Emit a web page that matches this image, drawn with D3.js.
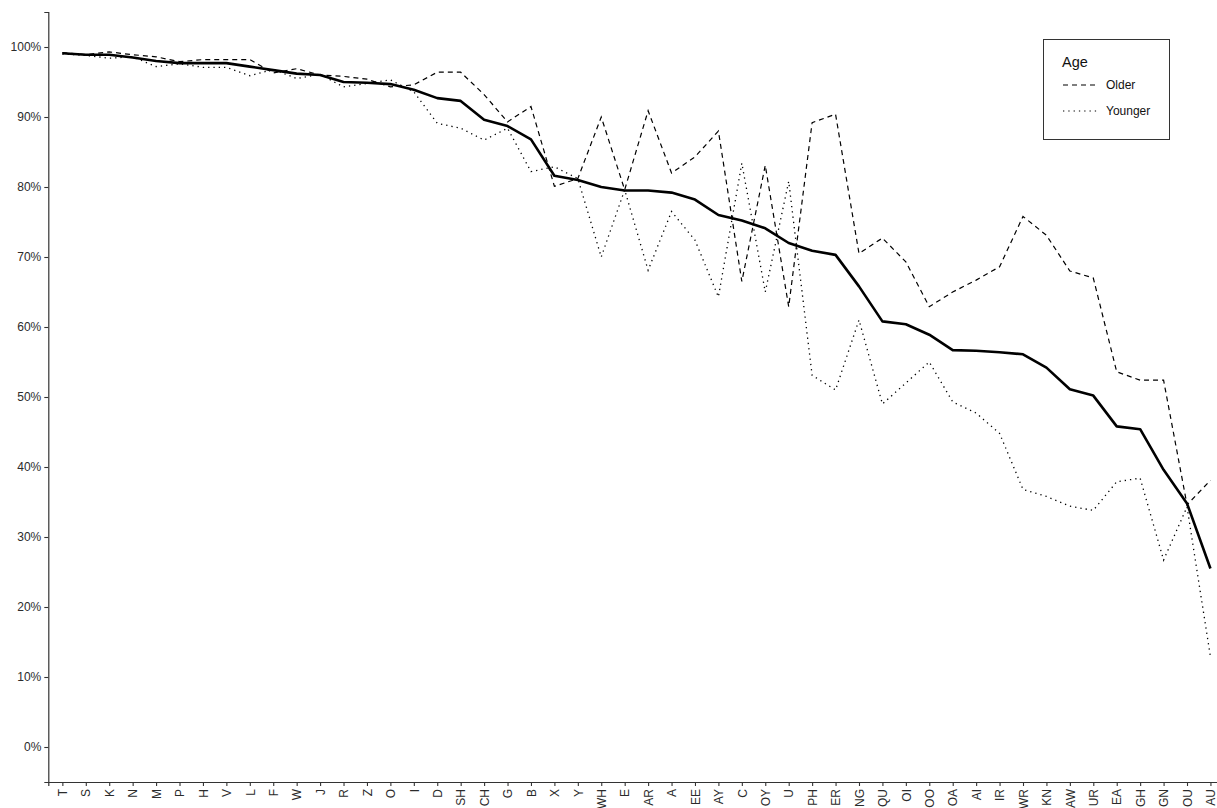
<!DOCTYPE html>
<html>
<head>
<meta charset="utf-8">
<script src="https://cdn.jsdelivr.net/npm/d3@7"></script>
<style>
  html, body { margin: 0; padding: 0; background: #fff; }
  svg { display: block; font-family: "Liberation Sans", Arial, Helvetica, sans-serif; }
</style>
</head>
<body>
<svg id="chart" width="1217" height="808"></svg>
<script>
const categories = ["T","S","K","N","M","P","H","V","L","F","W","J","R","Z","O","I","D","SH","CH","G","B","X","Y","WH","E","AR","A","EE","AY","C","OY","U","PH","ER","NG","QU","OI","OO","OA","AI","IR","WR","KN","AW","UR","EA","GH","GN","OU","AU"];

const overall = [99.1,98.9,98.9,98.5,98.0,97.7,97.7,97.7,97.2,96.7,96.2,96.0,95.0,94.9,94.7,93.9,92.7,92.3,89.6,88.7,86.8,81.6,81.0,80.0,79.5,79.5,79.2,78.2,76.0,75.2,74.1,72.0,70.9,70.3,65.8,60.8,60.4,58.9,56.7,56.6,56.4,56.1,54.2,51.1,50.2,45.8,45.4,39.6,34.8,25.5];

const older = [99.2,98.9,99.3,98.9,98.6,97.9,98.2,98.2,98.2,96.3,96.9,96.0,95.8,95.4,94.3,94.6,96.4,96.4,93.2,89.3,91.5,80.1,81.2,90.0,79.6,90.9,82.0,84.3,88.0,66.5,83.1,62.9,89.2,90.4,70.5,72.7,69.3,62.9,65.0,66.7,68.6,75.8,73.1,68.0,67.0,53.6,52.4,52.4,34.6,38.1];

const younger = [99.0,98.8,98.4,98.6,97.2,97.6,97.1,97.1,95.9,96.8,95.5,96.1,94.3,94.8,95.3,93.6,89.1,88.4,86.7,88.4,82.2,82.9,81.2,70.0,79.6,68.1,76.5,72.4,64.3,83.4,65.0,80.8,53.1,51.0,61.0,49.0,52.0,55.0,49.3,47.7,44.8,36.8,35.8,34.4,33.8,37.9,38.4,26.7,34.3,12.9];

const yTicks = [0,10,20,30,40,50,60,70,80,90,100];
const legendTitle = "Age";
const legendLabels = ["Older","Younger"];

const svg = d3.select("#chart");
const mLeft = 48.3, mRight = 1224.5, mTop = 12, mBottom = 782;

const x = d3.scalePoint().domain(categories).range([mLeft, mRight]).padding(0.6);
const y = d3.scaleLinear().domain([-5, 105]).range([mBottom, mTop]);

// axes
const axisColor = "#333333";
const yAxis = svg.append("g").attr("transform", `translate(${mLeft},0)`)
  .call(d3.axisLeft(y).tickValues(yTicks).tickFormat(d => d + "%").tickSizeOuter(0).tickSize(4).tickPadding(3));
const xAxis = svg.append("g").attr("transform", `translate(0,${mBottom})`)
  .call(d3.axisBottom(x).tickSizeOuter(0).tickSize(4).tickPadding(3));

[yAxis, xAxis].forEach(g => {
  g.select(".domain").attr("stroke", axisColor).attr("stroke-width", 1.2);
  g.selectAll(".tick line").attr("stroke", axisColor).attr("stroke-width", 1.1);
  g.selectAll(".tick text").attr("fill", "#2b2b2b").attr("font-size", 12)
    .attr("font-family", "'Liberation Sans', Arial, sans-serif");
});
xAxis.selectAll(".tick text")
  .attr("transform", "rotate(-90)")
  .attr("text-anchor", "end")
  .attr("dy", "0.35em")
  .attr("x", -7)
  .attr("y", 0);

// lines
const line = d3.line().x((d, i) => x(categories[i])).y(d => y(d));
const g = svg.append("g");
g.append("path").datum(older).attr("d", line)
  .attr("fill", "none").attr("stroke", "#000").attr("stroke-width", 1.2)
  .attr("stroke-dasharray", "5,4");
g.append("path").datum(younger).attr("d", line)
  .attr("fill", "none").attr("stroke", "#000").attr("stroke-width", 1.3)
  .attr("stroke-dasharray", "1.3,4").attr("stroke-linecap", "butt");
g.append("path").datum(overall).attr("d", line)
  .attr("fill", "none").attr("stroke", "#000").attr("stroke-width", 2.6)
  .attr("stroke-linejoin", "round");

// legend
const lg = svg.append("g");
lg.append("rect").attr("x", 1043.5).attr("y", 39.5).attr("width", 126).attr("height", 100)
  .attr("fill", "#fff").attr("stroke", "#333").attr("stroke-width", 1);
lg.append("text").attr("x", 1062).attr("y", 67).attr("font-size", 14.5).attr("fill", "#111").text(legendTitle);
const dashes = ["5,4", "1.3,4"];
legendLabels.forEach((lab, i) => {
  const cy = 85 + i * 26;
  lg.append("line").attr("x1", 1063).attr("x2", 1097).attr("y1", cy).attr("y2", cy)
    .attr("stroke", "#000").attr("stroke-width", 1.2).attr("stroke-dasharray", dashes[i]);
  lg.append("text").attr("x", 1106).attr("y", cy + 4).attr("font-size", 12).attr("fill", "#111").text(lab);
});
</script>
</body>
</html>
